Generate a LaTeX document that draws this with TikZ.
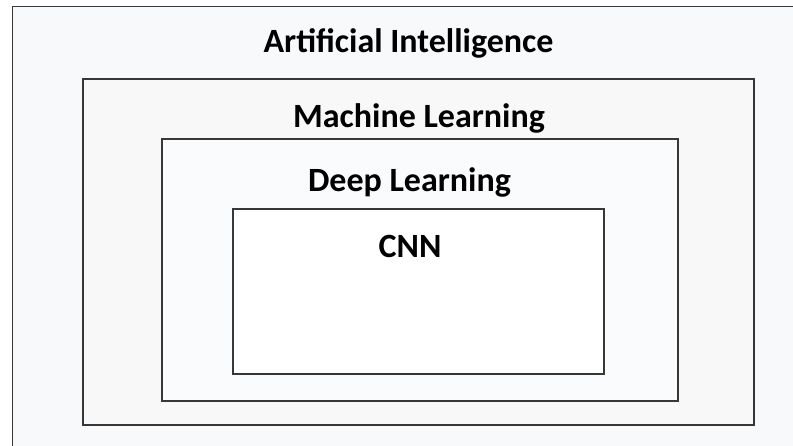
\documentclass[tikz,border=0pt]{standalone}
\usepackage{fontspec}
\setmainfont{Carlito}
\definecolor{paper}{RGB}{248,249,251}
\definecolor{mlfill}{RGB}{248,248,248}
\definecolor{dlfill}{RGB}{250,251,253}
\definecolor{edge}{RGB}{55,55,55}
\begin{document}
\begin{tikzpicture}[x=1pt, y=-1pt,
  layer/.style={draw=edge, line width=1.6pt},
  title/.style={anchor=base, text=black, font=\bfseries\fontsize{34}{40}\selectfont}]
  \useasboundingbox (0,0) rectangle (793,446);
  \clip (0,0) rectangle (793,446);
  \fill[white] (0,0) rectangle (793,446);
  % nested fields, outermost first
  \filldraw[layer, fill=paper] (12.5,6.5) rectangle (820,470);
  \filldraw[layer, fill=mlfill] (83,79) rectangle (754,425);
  \filldraw[layer, fill=dlfill] (162,139) rectangle (678,401);
  \filldraw[layer, fill=white] (233,209) rectangle (604,374);
  \node[title] (ai) at (408.5,53) {Artificial Intelligence};
  \node[title] (ml) at (419,128) {Machine Learning};
  \node[title] (dl) at (409.5,192) {Deep Learning};
  \node[title] (cnn) at (410,258) {CNN};
\end{tikzpicture}
\end{document}
